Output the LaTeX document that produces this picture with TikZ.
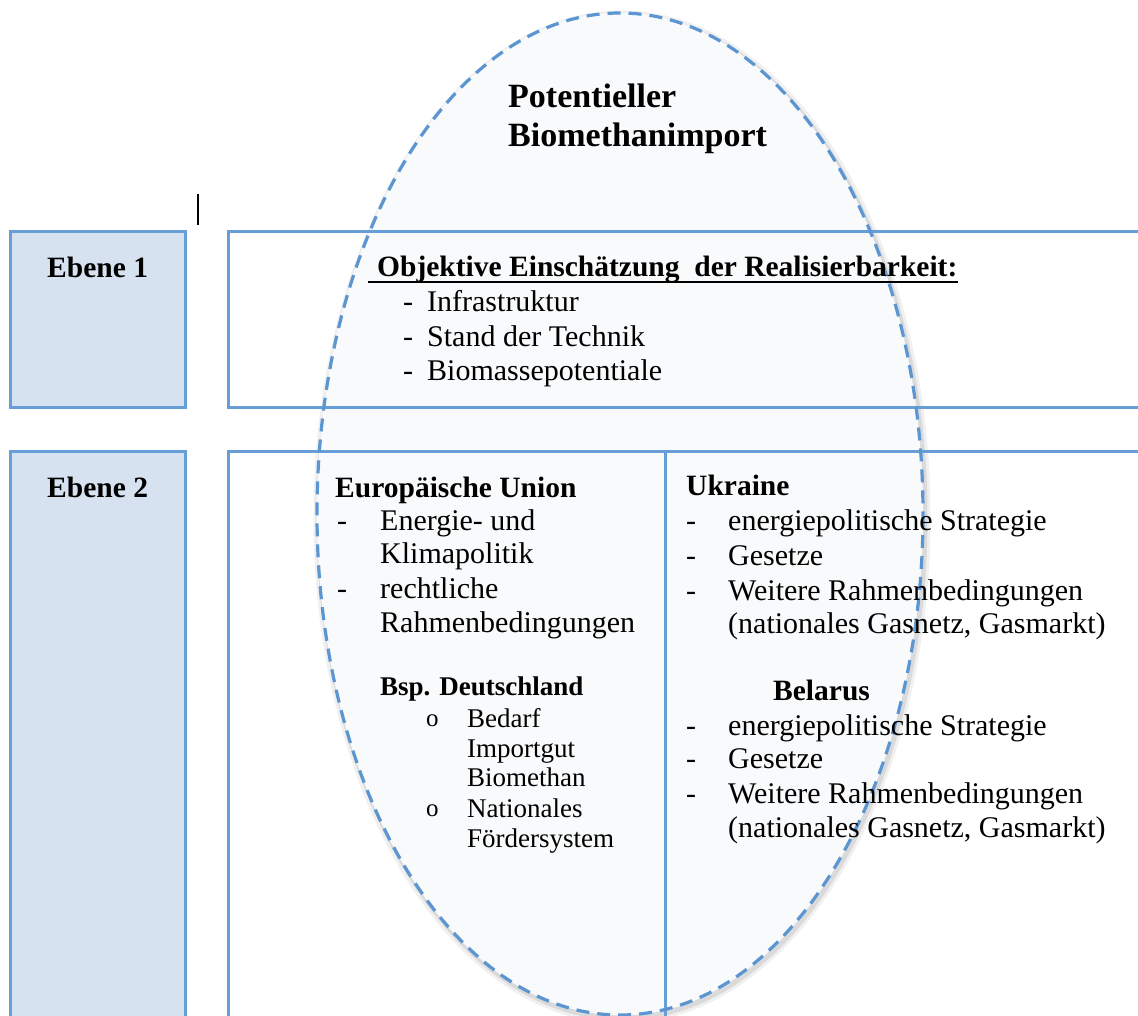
\documentclass[tikz,border=0pt]{standalone}
\usepackage{fontspec}
\setmainfont{Liberation Serif}
\definecolor{frameblue}{RGB}{104,158,216}
\definecolor{ebenefill}{RGB}{214,226,239}
\definecolor{ellfill}{RGB}{249,250,251}
\definecolor{dashblue}{RGB}{92,150,210}
\tikzset{
  txt/.style={anchor=base west, inner sep=0pt, font=\fontsize{30}{35}\selectfont},
  btxt/.style={anchor=base west, inner sep=0pt, font=\fontsize{29.5}{35}\selectfont\bfseries},
  stxt/.style={anchor=base west, inner sep=0pt, font=\fontsize{27}{30}\selectfont},
  sbtxt/.style={anchor=base west, inner sep=0pt, font=\fontsize{27}{30}\selectfont\bfseries},
  titletxt/.style={anchor=base west, inner sep=0pt, font=\fontsize{34}{39}\selectfont\bfseries},
  bulo/.style={anchor=base west, inner sep=0pt, font=\fontsize{25}{28}\selectfont},
  frame/.style={draw=frameblue, line width=3pt},
  ellborder/.style={draw=dashblue, line width=3.2pt, dash pattern=on 13pt off 8pt},
}
\begin{document}
\begin{tikzpicture}[x=1pt,y=-1pt]
\useasboundingbox (0,0) rectangle (1138,1016);
\clip (0,0) rectangle (1138,1016);
\fill[white] (0,0) rectangle (1138,1016);
% ellipse shadow and fill
\draw[black, opacity=0.06, line width=9pt] (622,517) ellipse [x radius=304, y radius=502];
\draw[black, opacity=0.09, line width=5pt] (622,517) ellipse [x radius=303, y radius=501];
\fill[ellfill] (620,514) ellipse [x radius=303, y radius=501];
% left boxes
\filldraw[frame, fill=ebenefill] (10,232) rectangle (185,407);
\filldraw[frame, fill=ebenefill] (10,451) rectangle (185,1040);
% right boxes
\draw[frame] (1150,232) -- (228,232) -- (228,407) -- (1150,407);
\draw[frame] (1150,451) -- (228,451) -- (228,1040);
\draw[frame] (665,451) -- (665,1040);
% ellipse border
\draw[ellborder] (620,514) ellipse [x radius=303, y radius=501];
% cursor
\draw[black, line width=1.2pt] (198,194) -- (198,225);
% title
\node[titletxt] (t1) at (508,108) {Potentieller};
\node[titletxt] (t2) at (508,147) {Biomethanimport};
% Ebene labels
\node[btxt] (e1) at (47,278) {Ebene 1};
\node[btxt] (e2) at (47,497) {Ebene 2};
% Ebene 1 content
\node[btxt] (obj) at (377,277) {Objektive Einschätzung\ \ der Realisierbarkeit:};
\draw[black, line width=1.3pt] ([xshift=-9pt,yshift=-5pt]obj.base west) -- ([yshift=-5pt]obj.base east);
\node[txt] (d11) at (403,312) {-};
\node[txt] (i11) at (427,312) {Infrastruktur};
\node[txt] (d12) at (403,347) {-};
\node[txt] (i12) at (427,347) {Stand der Technik};
\node[txt] (d13) at (403,381) {-};
\node[txt] (i13) at (427,381) {Biomassepotentiale};
% EU
\node[btxt] (eu) at (335,497) {Europäische Union};
\node[txt] (eud1) at (337,530) {-};
\node[txt] (eu1a) at (380,530) {Energie- und};
\node[txt] (eu1b) at (380,563) {Klimapolitik};
\node[txt] (eud2) at (337,598) {-};
\node[txt] (eu2a) at (380,598) {rechtliche};
\node[txt] (eu2b) at (380,632) {Rahmenbedingungen};
\node[sbtxt] (bsp) at (380,695) {Bsp. Deutschland};
\node[bulo] (o1) at (426,726) {o};
\node[stxt] (b1a) at (467,727) {Bedarf};
\node[stxt] (b1b) at (467,757) {Importgut};
\node[stxt] (b1c) at (467,786) {Biomethan};
\node[bulo] (o2) at (426,816) {o};
\node[stxt] (b2a) at (467,817) {Nationales};
\node[stxt] (b2b) at (467,847) {Fördersystem};
% Ukraine
\node[btxt] (ua) at (686,495) {Ukraine};
\node[txt] (uad1) at (686,530) {-};
\node[txt] (ua1) at (728,530) {energiepolitische Strategie};
\node[txt] (uad2) at (686,565) {-};
\node[txt] (ua2) at (728,565) {Gesetze};
\node[txt] (uad3) at (686,600) {-};
\node[txt] (ua3a) at (728,600) {Weitere Rahmenbedingungen};
\node[txt] (ua3b) at (728,633) {(nationales Gasnetz, Gasmarkt)};
% Belarus
\node[btxt] (by) at (773,700) {Belarus};
\node[txt] (byd1) at (686,735) {-};
\node[txt] (by1) at (728,735) {energiepolitische Strategie};
\node[txt] (byd2) at (686,768) {-};
\node[txt] (by2) at (728,768) {Gesetze};
\node[txt] (byd3) at (686,803) {-};
\node[txt] (by3a) at (728,803) {Weitere Rahmenbedingungen};
\node[txt] (by3b) at (728,837) {(nationales Gasnetz, Gasmarkt)};
\end{tikzpicture}
\end{document}
